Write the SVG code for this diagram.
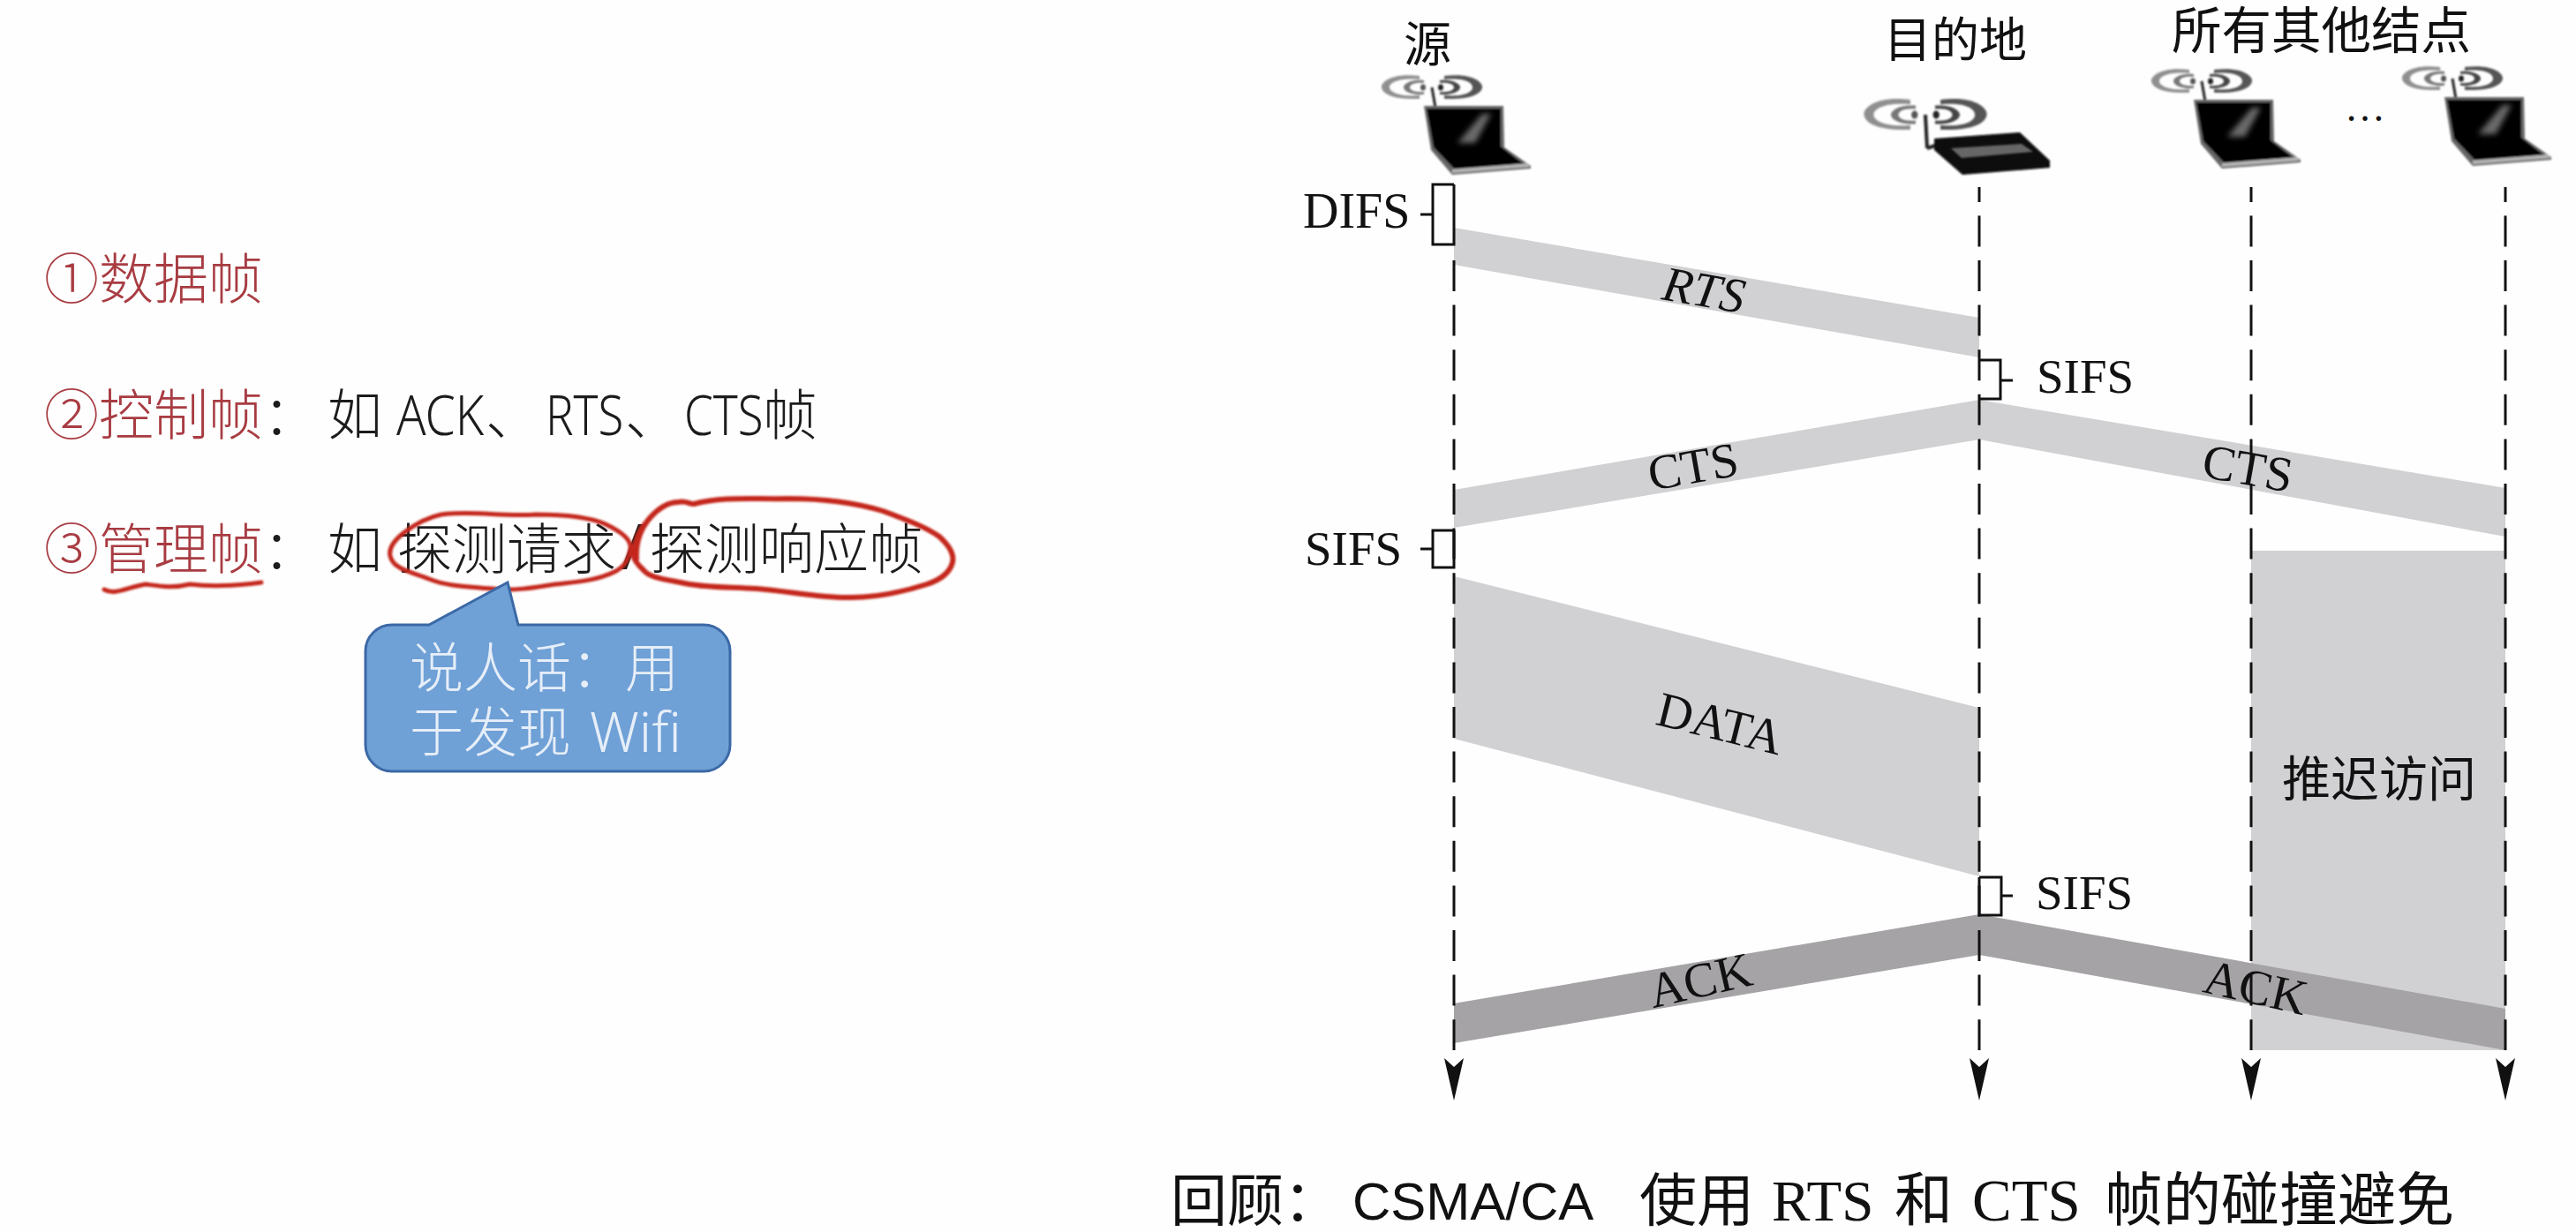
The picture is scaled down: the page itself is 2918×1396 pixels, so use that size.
<svg xmlns="http://www.w3.org/2000/svg" width="2918" height="1396" viewBox="0 0 2918 1396">
<style>
.cj{font-family:"Noto Sans CJK SC",sans-serif;font-weight:300}
.sf{font-family:"Liberation Serif","Noto Sans CJK SC",serif;fill:#111}
.lat{font-family:"Noto Sans",sans-serif;font-weight:300;font-size:62px;fill:#1c1c1c}
.red{fill:#a83c42}
.blk{fill:#1c1c1c}
.wht{fill:#e6eef8}
.life{stroke:#111;stroke-width:3;stroke-dasharray:35 15.6;fill:none}
.solid{stroke:#111;stroke-width:3;fill:none}
.brk{stroke:#111;stroke-width:3;fill:none}
.ink{stroke:#c4281c;fill:none;stroke-linecap:round;stroke-linejoin:round}
.lg{fill:#d1d0d3}
.dg{fill:#a5a3a6}
</style>
<defs>
<filter id="soft" x="-10%" y="-10%" width="120%" height="120%"><feGaussianBlur stdDeviation="1"/></filter>
<filter id="softer" x="-30%" y="-30%" width="160%" height="160%"><feGaussianBlur stdDeviation="3"/></filter>
<polygon id="head" points="-11,0 0,10 11,0 0,48" fill="#111"/>
<g id="waves">
<path d="M-14,-13C-45,-17 -58,-6 -57,0C-56,7 -45,14 -14,13L-14,9C-38,11 -48,5 -48,0C-48,-5 -38,-11 -14,-9Z" fill="#8f8f8f"/>
<path d="M-9,-8C-24,-9 -32,-4 -32,0C-32,4 -24,9 -9,8L-9,5C-20,6 -25,3 -25,0C-25,-3 -20,-6 -9,-5Z" fill="#777"/>
<ellipse cx="-10" cy="0" rx="3" ry="3.5" fill="#555"/>
<path d="M14,-13C45,-17 58,-6 57,0C56,7 45,14 14,13L14,9C38,11 46,5 46,0C46,-5 38,-11 14,-9Z" fill="#555"/>
<path d="M9,-8C24,-9 32,-4 32,0C32,4 24,9 9,8L9,5C20,6 25,3 25,0C25,-3 20,-6 9,-5Z" fill="#444"/>
<ellipse cx="10" cy="0" rx="3" ry="3.5" fill="#222"/>
</g>
<g id="laptop">
<g filter="url(#soft)">
<use href="#waves" x="9" y="-21"/>
<path d="M9,-21L13,2" stroke="#222" stroke-width="3" fill="none"/>
<polygon points="0,0 90,0 91,47 121,68 121,71 32,78 8,50" fill="#666"/>
<polygon points="3,3 87,3 87,46 113,66 34,71 11,47" fill="#050505"/>
<polygon points="32,72 117,65 120,69 32,76" fill="#b5b5b5"/>
</g>
<polygon points="38,42 66,9 76,9 58,42" fill="#6a6a6a" filter="url(#softer)"/>
</g>
</defs>
<rect id="background" width="2918" height="1396" fill="#fefefe"/>

<g id="frame-types">
<text class="cj red" x="50" y="339" font-size="62">①数据帧</text>
<text class="cj blk" y="493" font-size="62"><tspan class="red" x="50">②控制帧</tspan>：<tspan x="371">如</tspan></text>
<text class="lat" transform="translate(449,493) scale(0.89,1)">ACK</text>
<text class="cj blk" x="550" y="493" font-size="62">、</text>
<text class="lat" transform="translate(618,493) scale(0.85,1)">RTS</text>
<text class="cj blk" x="708" y="493" font-size="62">、</text>
<text class="lat" transform="translate(775,493) scale(0.85,1)">CTS</text>
<text class="cj blk" x="864" y="493" font-size="62">帧</text>
<text class="cj blk" y="645" font-size="62"><tspan class="red" x="50">③管理帧</tspan>：<tspan x="371">如</tspan><tspan x="450">探测请求</tspan><tspan x="703" font-family="'Noto Sans',sans-serif" font-weight="400" font-size="72">/</tspan><tspan x="736">探测响应帧</tspan></text>
</g>

<g id="annotations" filter="url(#soft)">
<path class="ink" stroke-width="5" d="M118,668C130,675 145,665 165,662C180,664 195,667 215,662C240,665 265,664 296,660"/>
<path class="ink" stroke-width="5" d="M500,583C535,578 570,586 607,583C640,583 668,586 686,594C705,603 716,612 714,622C712,634 708,642 696,648C675,658 655,659 629,662C605,666 580,670 557,667C530,665 505,664 486,656C465,648 448,645 443,633C438,622 447,612 457,604C470,594 485,586 500,583Z"/>
<path class="ink" stroke-width="6" d="M721,633C720,615 725,600 736,587C745,577 755,569 768,569C778,567 782,572 786,571C820,562 855,566 893,565C930,565 970,570 1000,579C1030,590 1050,598 1064,608C1075,618 1081,628 1079,637C1076,650 1065,657 1050,662C1025,670 995,677 964,677C930,678 895,670 857,667C825,665 795,666 771,660C750,656 735,654 729,646C718,636 716,630 718,625C720,610 724,600 732,592C738,584 748,575 757,571"/>
</g>

<g id="callout">
<path d="M444,708H486L575,660L587,708H797A30,30 0 0 1 827,738V844A30,30 0 0 1 797,874H444A30,30 0 0 1 414,844V738A30,30 0 0 1 444,708Z" fill="#6fa0d6" stroke="#3c69a6" stroke-width="3"/>
<text class="cj wht" font-size="61"><tspan x="464" y="779">说人话：用</tspan><tspan x="464" y="852">于发现</tspan><tspan x="668" y="852" font-family="'Noto Sans',sans-serif" font-size="62">Wifi</tspan></text>
</g>

<g id="frames">
<rect id="defer-region" class="lg" x="2550" y="624" width="288" height="566"/>
<polygon id="rts-band" class="lg" points="1647,258 2242,360 2242,405 1647,300"/>
<polygon id="cts-left-band" class="lg" points="1647,555 2242,453 2242,498 1647,598"/>
<polygon id="cts-right-band" class="lg" points="2242,453 2838,553 2838,608 2242,498"/>
<polygon id="data-band" class="lg" points="1647,653 2242,802 2242,993 1647,837"/>
<polygon id="ack-left-band" class="dg" points="1647,1137 2242,1036 2242,1082 1647,1182"/>
<polygon id="ack-right-band" class="dg" points="2242,1036 2838,1143 2838,1190 2242,1082"/>
</g>

<g id="connectors">
<line class="life" x1="1647" y1="295" x2="1647" y2="1190"/>
<line class="solid" x1="2242" y1="212" x2="2242" y2="229"/>
<line class="life" x1="2242" y1="244.4" x2="2242" y2="1190"/>
<line class="solid" x1="2550" y1="212" x2="2550" y2="229"/>
<line class="life" x1="2550" y1="244.4" x2="2550" y2="1190"/>
<line class="solid" x1="2838" y1="212" x2="2838" y2="229"/>
<line class="life" x1="2838" y1="244.4" x2="2838" y2="1190"/>
<use href="#head" x="1647" y="1199"/>
<use href="#head" x="2242" y="1199"/>
<use href="#head" x="2550" y="1199"/>
<use href="#head" x="2838" y="1199"/>
</g>

<g id="intervals">
<path class="brk" d="M1647,209H1623V277H1647V209M1609,243H1623"/>
<path class="brk" d="M1647,601H1623V643H1647V601M1609,622H1623"/>
<path class="brk" d="M2242,408H2266V452H2242M2266,431H2280"/>
<path class="brk" d="M2242,994H2267V1037H2242V994M2267,1015H2280"/>
<text class="sf" x="1476" y="258" font-size="56">DIFS</text>
<text class="sf" x="1478" y="640" font-size="55">SIFS</text>
<text class="sf" x="2307" y="445" font-size="55">SIFS</text>
<text class="sf" x="2306" y="1030" font-size="55">SIFS</text>
</g>

<g id="node-source">
<text class="sf" x="1590" y="70" font-size="54">源</text>
<use href="#laptop" x="1613" y="120"/>
</g>
<g id="node-destination">
<text class="sf" x="2134" y="65" font-size="54">目的地</text>
<g filter="url(#soft)">
<use href="#waves" transform="translate(2181,130) scale(1.22,1.3)"/>
<path d="M2181,130L2183,168" stroke="#222" stroke-width="4" fill="none"/>
<path d="M2183,168L2192,165" stroke="#222" stroke-width="4" fill="none"/>
<polygon points="2191,157 2288,150 2322,182 2322,190 2223,198 2191,170" fill="#080808"/>
</g>
<polygon points="2210,168 2290,163 2303,172 2222,179" fill="#666" filter="url(#soft)"/>
</g>
<g id="node-others">
<text class="sf" x="2460" y="55" font-size="56.5">所有其他结点</text>
<use href="#laptop" x="2485" y="113"/>
<text class="sf" x="2656" y="137" font-size="46">…</text>
<use href="#laptop" x="2769" y="110"/>
</g>

<g id="frame-labels">
<text class="sf" text-anchor="middle" font-style="italic" font-size="56" transform="translate(1927,347) rotate(10)">RTS</text>
<text class="sf" text-anchor="middle" font-size="56" transform="translate(1921,547) rotate(-10)">CTS</text>
<text class="sf" text-anchor="middle" font-size="56" transform="translate(2543,549) rotate(10)">CTS</text>
<text class="sf" text-anchor="middle" font-size="56" transform="translate(1944,838) rotate(14)">DATA</text>
<text class="sf" text-anchor="middle" font-size="56" transform="translate(1930,1129) rotate(-13)">ACK</text>
<text class="sf" text-anchor="middle" font-size="56" transform="translate(2551,1137) rotate(13)">ACK</text>
<text class="sf" x="2585" y="902" font-size="55">推迟访问</text>
</g>

<g id="caption">
<text x="1326" y="1383" font-size="64" class="sf">回顾：<tspan x="1532" y="1382" font-size="60" font-family="'Liberation Sans',sans-serif">CSMA/CA</tspan><tspan x="1857" y="1383" font-size="65">使用</tspan><tspan x="2007" font-size="65">RTS</tspan><tspan x="2146" font-size="66">和</tspan><tspan x="2234" font-size="67">CTS</tspan><tspan x="2384" font-size="66">帧的碰撞避免</tspan></text>
</g>
</svg>
